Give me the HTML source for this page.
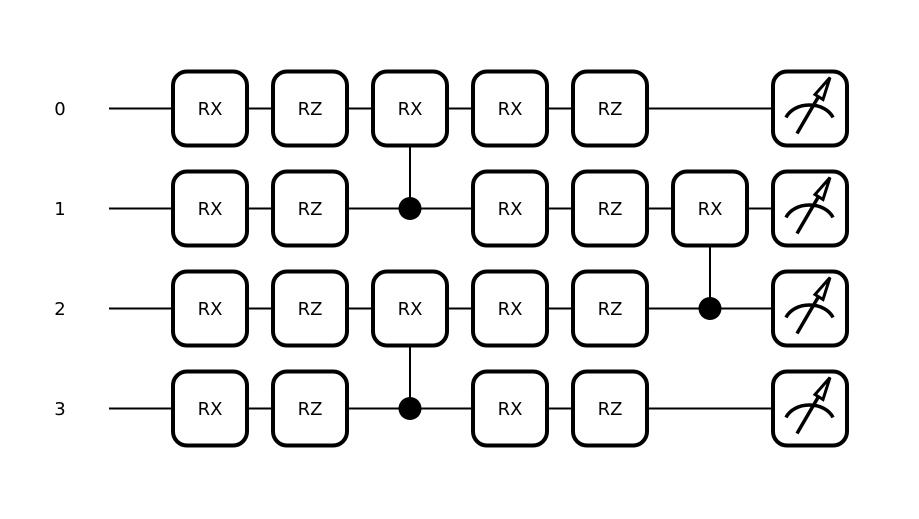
<!DOCTYPE html>
<html><head><meta charset="utf-8"><style>
html,body{margin:0;padding:0;background:#fff;}
svg{display:block;}
text{font-family:"DejaVu Sans","Liberation Sans",sans-serif;font-size:18px;fill:#000;}
</style></head><body>
<svg width="919" height="519" viewBox="0 0 919 519" xmlns="http://www.w3.org/2000/svg">
<defs>
<g id="meas">
  <rect x="-37" y="-37" width="74" height="74" rx="14" ry="14" fill="#fff" stroke="#000" stroke-width="4"/>
  <path d="M-24 9 A 25 19 0 0 1 23 9" fill="none" stroke="#000" stroke-width="3.5"/>
  <line x1="-13" y1="25" x2="15" y2="-23" stroke="#000" stroke-width="3.5"/>
  <path d="M20 -31 L5 -14 L13 -9 Z" fill="#fff" stroke="#000" stroke-width="3" stroke-linejoin="miter"/>
</g>
</defs>
<!-- wires -->
<g stroke="#000" stroke-width="2">
  <line x1="109" y1="108.5" x2="810" y2="108.5"/>
  <line x1="109" y1="208.5" x2="810" y2="208.5"/>
  <line x1="109" y1="308.5" x2="810" y2="308.5"/>
  <line x1="109" y1="408.5" x2="810" y2="408.5"/>
  <line x1="410" y1="108" x2="410" y2="208"/>
  <line x1="410" y1="308" x2="410" y2="408"/>
  <line x1="710" y1="208" x2="710" y2="308"/>
</g>
<g fill="#000">
  <circle cx="410" cy="208.5" r="11.5"/>
  <circle cx="410" cy="408.5" r="11.5"/>
  <circle cx="710" cy="308.5" r="11.5"/>
</g>
<!-- labels -->
<g text-anchor="middle" style="font-size:17px">
  <text x="60" y="115">0</text>
  <text x="60" y="215">1</text>
  <text x="60" y="315">2</text>
  <text x="60" y="415">3</text>
</g>
<!-- gates -->
<g fill="#fff" stroke="#000" stroke-width="4">
  <rect x="173" y="71.5" width="74" height="74" rx="14"/>
  <rect x="273" y="71.5" width="74" height="74" rx="14"/>
  <rect x="373" y="71.5" width="74" height="74" rx="14"/>
  <rect x="473" y="71.5" width="74" height="74" rx="14"/>
  <rect x="573" y="71.5" width="74" height="74" rx="14"/>

  <rect x="173" y="171.5" width="74" height="74" rx="14"/>
  <rect x="273" y="171.5" width="74" height="74" rx="14"/>
  <rect x="473" y="171.5" width="74" height="74" rx="14"/>
  <rect x="573" y="171.5" width="74" height="74" rx="14"/>
  <rect x="673" y="171.5" width="74" height="74" rx="14"/>

  <rect x="173" y="271.5" width="74" height="74" rx="14"/>
  <rect x="273" y="271.5" width="74" height="74" rx="14"/>
  <rect x="373" y="271.5" width="74" height="74" rx="14"/>
  <rect x="473" y="271.5" width="74" height="74" rx="14"/>
  <rect x="573" y="271.5" width="74" height="74" rx="14"/>

  <rect x="173" y="371.5" width="74" height="74" rx="14"/>
  <rect x="273" y="371.5" width="74" height="74" rx="14"/>
  <rect x="473" y="371.5" width="74" height="74" rx="14"/>
  <rect x="573" y="371.5" width="74" height="74" rx="14"/>
</g>
<g text-anchor="middle">
  <text x="210" y="115">RX</text><text x="310" y="115">RZ</text><text x="410" y="115">RX</text><text x="510" y="115">RX</text><text x="610" y="115">RZ</text>
  <text x="210" y="215">RX</text><text x="310" y="215">RZ</text><text x="510" y="215">RX</text><text x="610" y="215">RZ</text><text x="710" y="215">RX</text>
  <text x="210" y="315">RX</text><text x="310" y="315">RZ</text><text x="410" y="315">RX</text><text x="510" y="315">RX</text><text x="610" y="315">RZ</text>
  <text x="210" y="415">RX</text><text x="310" y="415">RZ</text><text x="510" y="415">RX</text><text x="610" y="415">RZ</text>
</g>
<use href="#meas" x="810" y="108.5"/>
<use href="#meas" x="810" y="208.5"/>
<use href="#meas" x="810" y="308.5"/>
<use href="#meas" x="810" y="408.5"/>
</svg>
</body></html>
